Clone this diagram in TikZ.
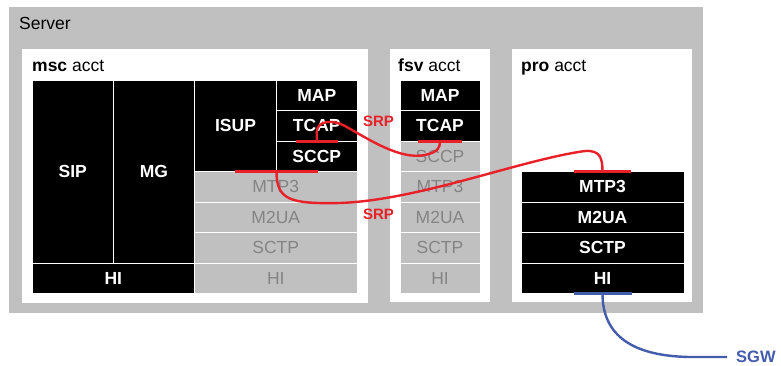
\documentclass[tikz,border=0pt]{standalone}
\usepackage{fontspec}
\setmainfont{Liberation Sans}
\usetikzlibrary{calc}
\definecolor{boxgray}{RGB}{192,192,192}
\definecolor{labgray}{RGB}{132,132,132}
\definecolor{srpred}{RGB}{232,32,40}
\definecolor{sgwblue}{RGB}{68,92,172}

% one protocol cell: name, x1, y1, x2, y2, style, label
\newcommand\cell[7]{%
  \node[#6, minimum width={#4-#2}, minimum height={#5-#3}]
    (#1) at ({(#2+#4)/2},{(#3+#5)/2}) {#7};}

\begin{document}
\begin{tikzpicture}[x=1pt,y=-1pt,
  lbl/.style={font=\fontsize{17.5}{20}\selectfont},
  blk/.style={lbl,fill=black,draw=white,line width=1pt,text=white,
    font=\fontsize{17.5}{20}\selectfont\bfseries,inner sep=0pt,outer sep=0pt},
  off/.style={lbl,fill=boxgray,draw=white,line width=1pt,text=labgray,
    inner sep=0pt,outer sep=0pt},
  panel/.style={fill=white,draw=none},
  title/.style={lbl,anchor=base west,inner sep=0pt},
  srp/.style={draw=srpred,line width=2.4pt},
  srpbar/.style={draw=srpred,line width=3pt},
  srplbl/.style={text=srpred,font=\fontsize{15}{17}\selectfont\bfseries,inner sep=0pt},
  sgw/.style={draw=sgwblue,line width=2.4pt},
  sgwbar/.style={draw=sgwblue,line width=3pt},
  sgwlbl/.style={text=sgwblue,font=\fontsize{16.5}{18}\selectfont\bfseries,inner sep=0pt}]

\useasboundingbox (0,0) rectangle (781,365);

% server and account panels
\fill[boxgray] (9,7) rectangle (703,313);
\node[title] (server) at (19,29.3) {Server};
\fill[panel] (22,49) rectangle (368,303);
\fill[panel] (390,49) rectangle (490,302);
\fill[panel] (512,49) rectangle (692,302);
\node[title] (msct) at (32,71) {\textbf{msc} acct};
\node[title] (fsvt) at (398,71) {\textbf{fsv} acct};
\node[title] (prot) at (521,71) {\textbf{pro} acct};

% msc stack
\cell{mscSIP}{32}{80}{113.5}{263}{blk}{SIP}
\cell{mscMG}{113.5}{80}{194.5}{263}{blk}{MG}
\cell{mscISUP}{194.5}{80}{276.5}{171.5}{blk}{ISUP}
\cell{mscMAP}{276.5}{80}{357}{110.5}{blk}{MAP}
\cell{mscTCAP}{276.5}{110.5}{357}{141}{blk}{TCAP}
\cell{mscSCCP}{276.5}{141}{357}{171.5}{blk}{SCCP}
\cell{mscMTP}{194.5}{171.5}{357}{202}{off}{MTP3}
\cell{mscM2UA}{194.5}{202}{357}{232.5}{off}{M2UA}
\cell{mscSCTP}{194.5}{232.5}{357}{263}{off}{SCTP}
\cell{mscHIa}{32}{263}{194.5}{293.5}{blk}{HI}
\cell{mscHIb}{194.5}{263}{357}{293.5}{off}{HI}

% fsv stack
\cell{fsvMAP}{400}{80}{480}{110.5}{blk}{MAP}
\cell{fsvTCAP}{400}{110.5}{480}{141}{blk}{TCAP}
\cell{fsvSCCP}{400}{141}{480}{171.5}{off}{SCCP}
\cell{fsvMTP}{400}{171.5}{480}{202}{off}{MTP3}
\cell{fsvM2UA}{400}{202}{480}{232.5}{off}{M2UA}
\cell{fsvSCTP}{400}{232.5}{480}{263}{off}{SCTP}
\cell{fsvHI}{400}{263}{480}{293.5}{off}{HI}

% pro stack
\cell{proMTP}{521}{171.5}{684}{202}{blk}{MTP3}
\cell{proM2UA}{521}{202}{684}{232.5}{blk}{M2UA}
\cell{proSCTP}{521}{232.5}{684}{263}{blk}{SCTP}
\cell{proHI}{521}{263}{684}{293.5}{blk}{HI}

% SRP links
\draw[srp] (mscTCAP.south) -- ++(0,-9)
  .. controls (316.75,121) and (332,119) .. (345,126)
  .. controls (370,140) and (400,160) .. (425,155)
  .. controls (438,152) and (440,148) .. (fsvTCAP.south);
\draw[srp] (mscSCCP.south west)
  .. controls (276.5,200) and (290,204) .. (340,203)
  .. controls (420,200) and (520,160) .. (585,151)
  .. controls (600,150) and (602.5,158) .. (proMTP.north);

\draw[srpbar] ($(mscSCCP.south west)+(-41.5,0)$) -- ($(mscSCCP.south west)+(41.5,0)$);
\draw[srpbar] ($(mscTCAP.south)+(-21,0)$) -- ($(mscTCAP.south)+(21,0)$);
\draw[srpbar] ($(fsvTCAP.south)+(-22,0)$) -- ($(fsvTCAP.south)+(22,0)$);
\draw[srpbar] ($(proMTP.north)+(-28.5,0)$) -- ($(proMTP.north)+(28.5,0)$);

\node[srplbl] (srp1) at (378.5,121.7) {SRP};
\node[srplbl] (srp2) at (378.5,214.5) {SRP};

% signalling gateway link
\node[sgwlbl,anchor=west] (sgwt) at (736,357) {SGW};
\draw[sgw] (proHI.south)
  .. controls (602.5,330) and (625,356) .. (690,357)
  -- ([xshift=-9pt]sgwt.west);
\draw[sgwbar] ($(proHI.south)+(-29,0)$) -- ($(proHI.south)+(29,0)$);
\end{tikzpicture}
\end{document}
